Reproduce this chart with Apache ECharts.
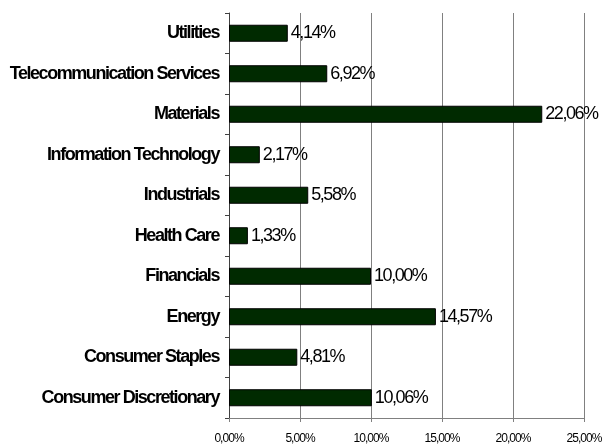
<!DOCTYPE html>
<html>
<head>
<meta charset="utf-8">
<script src="https://cdn.jsdelivr.net/npm/echarts@6/dist/echarts.min.js"></script>
<style>
  html, body { margin: 0; padding: 0; background: #fff; }
  #chart { width: 604px; height: 445px; }
</style>
</head>
<body>
<div id="chart"></div>
<script>
// bottom -> top, as the category axis draws them
const sectors = [
  'Consumer Discretionary', 'Consumer Staples', 'Energy', 'Financials', 'Health Care',
  'Industrials', 'Information Technology', 'Materials', 'Telecommunication Services', 'Utilities'
]
const weights = [10.06, 4.81, 14.57, 10.00, 1.33, 5.58, 2.17, 22.06, 6.92, 4.14]
const xTicks = [0, 5, 10, 15, 20, 25]

const font = '"Liberation Sans", Arial, sans-serif'
const pct = v => v.toFixed(2).replace('.', ',') + '%'

// the original uses tightly packed Arial; squeeze canvas text a bit
const fillText = CanvasRenderingContext2D.prototype.fillText
CanvasRenderingContext2D.prototype.fillText = function (text, x, y, w) {
  const m = /(\d+(?:\.\d+)?)px/.exec(this.font)
  if (m && 'letterSpacing' in this) this.letterSpacing = (-0.08 * parseFloat(m[1])).toFixed(2) + 'px'
  const r = w === undefined ? fillText.call(this, text, x, y) : fillText.call(this, text, x, y, w)
  if ('letterSpacing' in this) this.letterSpacing = '0px'
  return r
}

const chart = echarts.init(document.getElementById('chart'))
chart.setOption({
  animation: false,
  backgroundColor: '#fff',
  grid: { left: 229, right: 20, top: 13, bottom: 27, containLabel: false, outerBoundsMode: 'none' },
  xAxis: {
    type: 'value',
    min: xTicks[0],
    max: xTicks[xTicks.length - 1],
    interval: 5,
    axisLine: { show: true, lineStyle: { color: '#808080', width: 1 } },
    axisTick: { show: true, length: 4, lineStyle: { color: '#808080' } },
    splitLine: { show: true, lineStyle: { color: '#808080', width: 1 } },
    axisLabel: {
      margin: 15,
      color: '#000',
      fontFamily: font,
      fontSize: 12,
      formatter: v => pct(v)
    }
  },
  yAxis: {
    type: 'category',
    data: sectors,
    axisLine: { show: true, lineStyle: { color: '#404040', width: 1 } },
    axisTick: { show: true, length: 4, inside: false, lineStyle: { color: '#404040' } },
    axisLabel: {
      margin: 10,
      color: '#000',
      fontFamily: font,
      fontWeight: 'bold',
      fontSize: 18
    }
  },
  series: [{
    type: 'bar',
    data: weights,
    barCategoryGap: '58%',
    itemStyle: { color: '#002a00', borderColor: '#000', borderWidth: 1 },
    label: {
      show: true,
      position: 'right',
      distance: 3,
      color: '#000',
      fontFamily: font,
      fontSize: 18,
      formatter: p => pct(p.value)
    }
  }]
})
</script>
</body>
</html>
